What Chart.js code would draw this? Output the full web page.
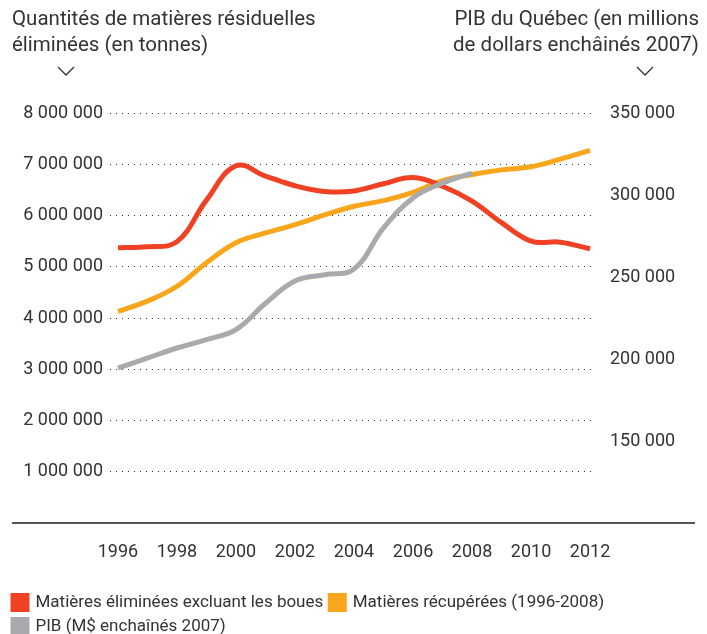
<!DOCTYPE html>
<html lang="fr">
<head>
<meta charset="utf-8">
<script src="https://cdn.jsdelivr.net/npm/chart.js@4.4.1/dist/chart.umd.min.js"></script>
<style>
    body { margin: 0; background: #fff; }
    .wrap { position: relative; width: 707px; height: 634px; font-family: Roboto, sans-serif; color: #333; }
    .title { position: absolute; top: 5px; font-size: 20.5px; line-height: 26px; }
    .title.left { left: 12px; }
    .title.right { right: 8px; text-align: right; }
    .chev { position: absolute; top: 66px; }
</style>
</head>
<body>
<div class="wrap">
    <canvas id="myChart" width="707" height="634"></canvas>
    <div class="title left">Quantités de matières résiduelles<br>éliminées (en tonnes)</div>
    <div class="title right">PIB du Québec (en millions<br>de dollars enchâinés 2007)</div>
    <svg class="chev" style="left:57px" width="18" height="10"><polyline points="1,1 9,9 17,1" fill="none" stroke="#333" stroke-width="1.3"/></svg>
    <svg class="chev" style="left:636px" width="18" height="10"><polyline points="1,1 9,9 17,1" fill="none" stroke="#333" stroke-width="1.3"/></svg>
</div>
<script>
const years = [1996, 1997, 1998, 1999, 2000, 2001, 2002, 2003, 2004, 2005, 2006, 2007, 2008, 2009, 2010, 2011, 2012];

// tonnes
const elimines = [5370000, 5390000, 5490000, 6300000, 6970000, 6770000, 6580000, 6470000, 6480000, 6620000, 6740000, 6570000, 6280000, 5860000, 5500000, 5480000, 5350000];
const recuperees = [4130000, 4330000, 4620000, 5080000, 5470000, 5660000, 5820000, 6010000, 6180000, 6290000, 6450000, 6680000, 6800000, 6890000, 6950000, 7100000, 7270000];

// M$ enchaînés 2007
const pib = [194500, 200600, 206700, 211800, 217900, 234000, 247600, 251400, 254800, 279900, 298200, 307300, 313400, null, null, null, null];

const xTicks = [1996, 1998, 2000, 2002, 2004, 2006, 2008, 2010, 2012];
const leftTicks = [1000000, 2000000, 3000000, 4000000, 5000000, 6000000, 7000000, 8000000];
const rightTicks = [150000, 200000, 250000, 300000, 350000];

const fmt = v => String(v).replace(/\B(?=(\d{3})+(?!\d))/g, ' ');
const pts = arr => years.map((y, i) => ({ x: y, y: arr[i] }));

const textColor = '#333';
const tickFont = { family: 'Roboto', size: 18 };

// baseline sous la zone du graphique, plus large que celle-ci
const baseLine = {
    id: 'baseLine',
    afterInit(chart) {
        // legende plus basse, collee au bas
        const fit = chart.legend.fit;
        chart.legend.fit = function () {
            fit.call(this);
            this.height = 47;
        };
    },
    afterDraw(chart) {
        const ctx = chart.ctx;
        const y = chart.chartArea.bottom;
        ctx.save();
        ctx.strokeStyle = '#555';
        ctx.lineWidth = 2;
        ctx.beginPath();
        ctx.moveTo(12, y);
        ctx.lineTo(695, y);
        ctx.stroke();
        ctx.restore();
    }
};

const data = {
    datasets: [{
        label: 'Matières éliminées excluant les boues',
        data: pts(elimines),
        borderColor: '#f04124',
        backgroundColor: '#f04124',
        yAxisID: 'y',
        order: 1,
    }, {
        label: 'Matières récupérées (1996-2008)',
        data: pts(recuperees),
        borderColor: '#f9a61c',
        backgroundColor: '#f9a61c',
        yAxisID: 'y',
        order: 2,
    }, {
        label: 'PIB (M$ enchaînés 2007)',
        data: pts(pib),
        borderColor: '#a9aaad',
        backgroundColor: '#a9aaad',
        yAxisID: 'y1',
        order: 0,
    }]
};

const options = {
    responsive: false,
    animation: false,
    layout: {
        padding: { top: 113, left: 6, right: 0, bottom: 0 }
    },
    elements: {
        line: { borderWidth: 5, tension: 0.4, borderCapStyle: 'butt' },
        point: { radius: 0 }
    },
    plugins: {
        tooltip: { enabled: false },
        legend: {
            position: 'bottom',
            align: 'start',
            labels: {
                boxWidth: 14,
                boxHeight: 14,
                padding: 7,
                color: textColor,
                font: { family: 'Roboto', size: 17 },
                sort: (a, b) => a.datasetIndex - b.datasetIndex,
            }
        }
    },
    scales: {
        x: {
            type: 'linear',
            min: 1995.73,
            max: 2012.1,
            afterBuildTicks: axis => { axis.ticks = xTicks.map(v => ({ value: v })); },
            afterFit: axis => { axis.height = 64; },
            grid: { display: false },
            border: { display: false },
            ticks: {
                padding: 11,
                color: textColor,
                font: tickFont,
                maxRotation: 0,
                callback: v => String(v),
            }
        },
        y: {
            position: 'left',
            min: 0,
            max: 8000000,
            afterBuildTicks: axis => { axis.ticks = [0].concat(leftTicks).map(v => ({ value: v })); },
            afterFit: axis => { axis.width = 104; },
            border: { display: false, dash: [1, 5] },
            grid: {
                color: '#333',
                lineWidth: 1,
                drawTicks: false,
            },
            ticks: {
                padding: 7,
                color: textColor,
                font: tickFont,
                callback: v => v === 0 ? '' : fmt(v),
            }
        },
        y1: {
            position: 'right',
            min: 100000,
            max: 350000,
            afterBuildTicks: axis => { axis.ticks = rightTicks.map(v => ({ value: v })); },
            afterFit: axis => { axis.width = 114; },
            border: { display: false },
            grid: { display: false, drawTicks: false },
            ticks: {
                padding: 17,
                color: textColor,
                font: tickFont,
                callback: v => fmt(v),
            }
        }
    }
};

const myChart = new Chart(
    document.getElementById('myChart'),
    { type: 'line', data, options, plugins: [baseLine] }
);
</script>
</body>
</html>
